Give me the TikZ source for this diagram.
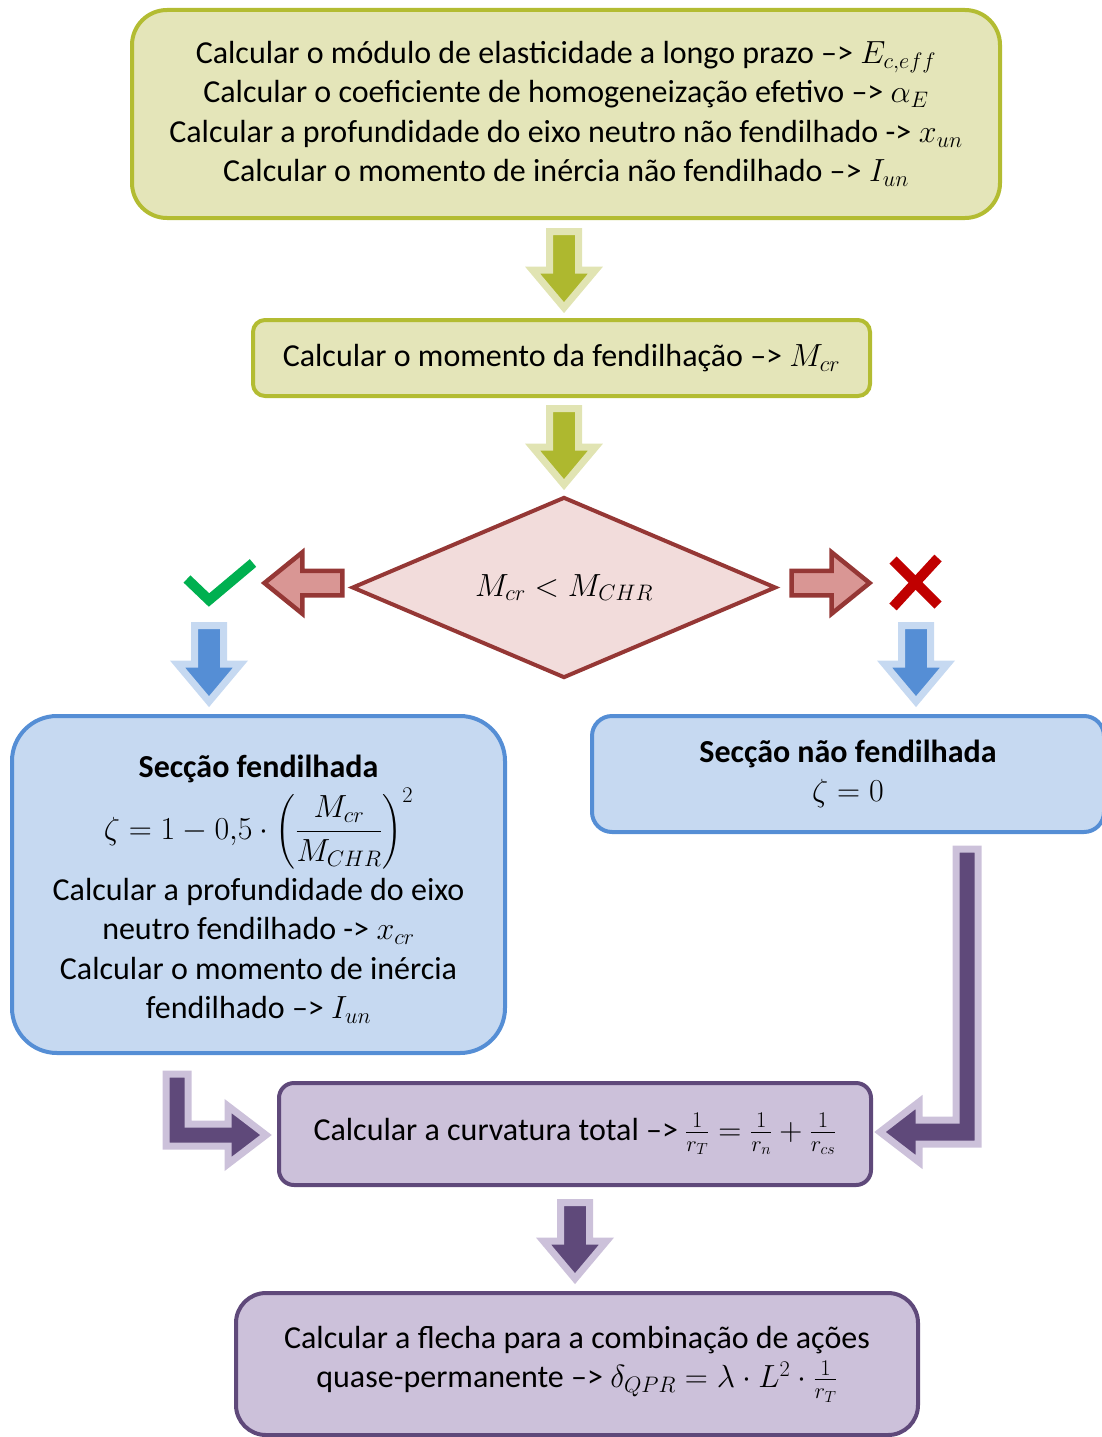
\RequirePackage{fix-cm}
\documentclass[tikz,border=0pt]{standalone}
\usepackage[no-math]{fontspec}
\setmainfont{Carlito}
\usepackage{amsmath}
\usetikzlibrary{shapes.geometric,shapes.arrows}

\begin{document}
\begin{tikzpicture}[x=1pt, y=1pt,
  every node/.style={font=\fontsize{32}{39.5}\selectfont, align=center, inner sep=0pt},
  olivebox/.style={draw=cOliveD, fill=cOliveL, line width=4pt},
  redbox/.style={draw=cRedD, fill=cRedL, line width=4pt},
  bluebox/.style={draw=cBlueD, fill=cBlueL, line width=4pt},
  purplebox/.style={draw=cPurD, fill=cPurL, line width=4pt},
  blockarrow/.style 2 args={single arrow, single arrow head indent=0pt,
    single arrow tip angle=80, single arrow head extend=17pt,
    inner xsep=0pt, inner ysep=11pt, minimum height=76pt,
    line width=7pt, draw=#1, fill=#2, rotate=-90},
  sidearrow/.style={single arrow, single arrow head indent=0pt,
    single arrow tip angle=78, single arrow head extend=18.5pt,
    inner xsep=0pt, inner ysep=10pt, minimum height=78pt,
    line width=4.5pt, draw=cRedD, fill=cRedM},
  bentarrow/.style={line width=7pt, draw=#1, line join=miter}]

% --- colors (office accent-ish) ---
\definecolor{cOliveL}{HTML}{E4E5B9}
\definecolor{cOliveD}{HTML}{B3BC32}
\definecolor{cOliveA}{HTML}{AEB82F}
\definecolor{cOliveO}{HTML}{E1E4B3}
\definecolor{cRedL}  {HTML}{F2DCDB}
\definecolor{cRedM}  {HTML}{D99694}
\definecolor{cRedD}  {HTML}{953735}
\definecolor{cBlueL} {HTML}{C6D9F1}
\definecolor{cBlueD} {HTML}{558ED5}
\definecolor{cPurL}  {HTML}{CCC1DA}
\definecolor{cPurD}  {HTML}{5F497A}
\definecolor{cTick}  {HTML}{00B050}
\definecolor{cCross} {HTML}{C00000}

\useasboundingbox (0,0) rectangle (1101,-1437);

% --- olive steps ---
\node[olivebox, rounded corners=35pt, minimum width=868pt, minimum height=208pt]
  (elast) at (566,-114)
  {Calcular o módulo de elasticidade a longo prazo –> $E_{c,eff}$\\
   Calcular o coeficiente de homogeneização efetivo –> $\alpha_E$\\
   Calcular a profundidade do eixo neutro não fendilhado -> $x_{un}$\\
   Calcular o momento de inércia não fendilhado –> $I_{un}$};
\node[olivebox, rounded corners=12pt, minimum width=617pt, minimum height=76pt]
  (mcr) at (561.5,-358) {Calcular o momento da fendilhação –> $M_{cr}$};

\node[blockarrow={cOliveO}{cOliveA}] (a1) at (564,-261) {};
\node[blockarrow={cOliveO}{cOliveA}] (a2) at (564,-438) {};

% --- decision ---
\node[redbox, diamond, aspect=2.34, minimum width=424pt, minimum height=181pt]
  (test) at (564,-587.5) {$M_{cr} < M_{CHR}$};
\node[sidearrow, shape border rotate=180] (yes) at (311,-583) {};
\node[sidearrow] (no) at (823,-583) {};

\draw[cTick, line width=10pt] (187,-579) -- (209,-600) -- (253,-563);
\draw[cCross, line width=10pt] (893,-560) -- (938,-605) (938,-558) -- (893,-607);

\node[blockarrow={cBlueL}{cBlueD}] (a3) at (209,-655) {};
\node[blockarrow={cBlueL}{cBlueD}] (a4) at (916,-655) {};

% --- sections ---
\node[bluebox, rounded corners=45pt, minimum width=493pt, minimum height=337pt]
  (crack) at (258.5,-884.5) {};
\node (crackTxt) at (258.5,-889)
  {\textbf{Secção fendilhada}\\[5pt]
   $\displaystyle\zeta = 1 - 0{,}5\cdot\left(\frac{M_{cr}}{M_{CHR}}\right)^{2}$\\[8pt]
   Calcular a profundidade do eixo\\
   neutro fendilhado -> $x_{cr}$\\
   Calcular o momento de inércia\\
   fendilhado –> $I_{un}$};
\node[bluebox, rounded corners=20pt, minimum width=512pt, minimum height=116pt]
  (uncrack) at (848,-774)
  {\textbf{Secção não fendilhada}\\ $\zeta = 0$};

% --- curvature + deflection ---
\node[purplebox, rounded corners=15pt, minimum width=592pt, minimum height=102pt]
  (curv) at (575,-1134)
  {Calcular a curvatura total –> $\frac{1}{r_T} = \frac{1}{r_n} + \frac{1}{r_{cs}}$};
\node[purplebox, rounded corners=30pt, minimum width=682pt, minimum height=142pt]
  (defl) at (577,-1364)
  {Calcular a flecha para a combinação de ações\\
   quase-permanente –> $\delta_{QPR} = \lambda\cdot L^{2}\cdot\frac{1}{r_T}$};

\node[blockarrow={cPurL}{cPurD}] (a5) at (575,-1232) {};

% bent arrows into curv
\filldraw[bentarrow=cPurL, fill=cPurD]
  (166,-1074) -- (166,-1146) -- (228,-1146) -- (228,-1164) -- (266,-1135)
  -- (228,-1106) -- (228,-1124) -- (188,-1124) -- (188,-1074) -- cycle;
\filldraw[bentarrow=cPurL, fill=cPurD]
  (978,-849) -- (978,-1144) -- (919,-1144) -- (919,-1162) -- (880,-1132)
  -- (919,-1102) -- (919,-1120) -- (956,-1120) -- (956,-849) -- cycle;

\end{tikzpicture}
\end{document}
